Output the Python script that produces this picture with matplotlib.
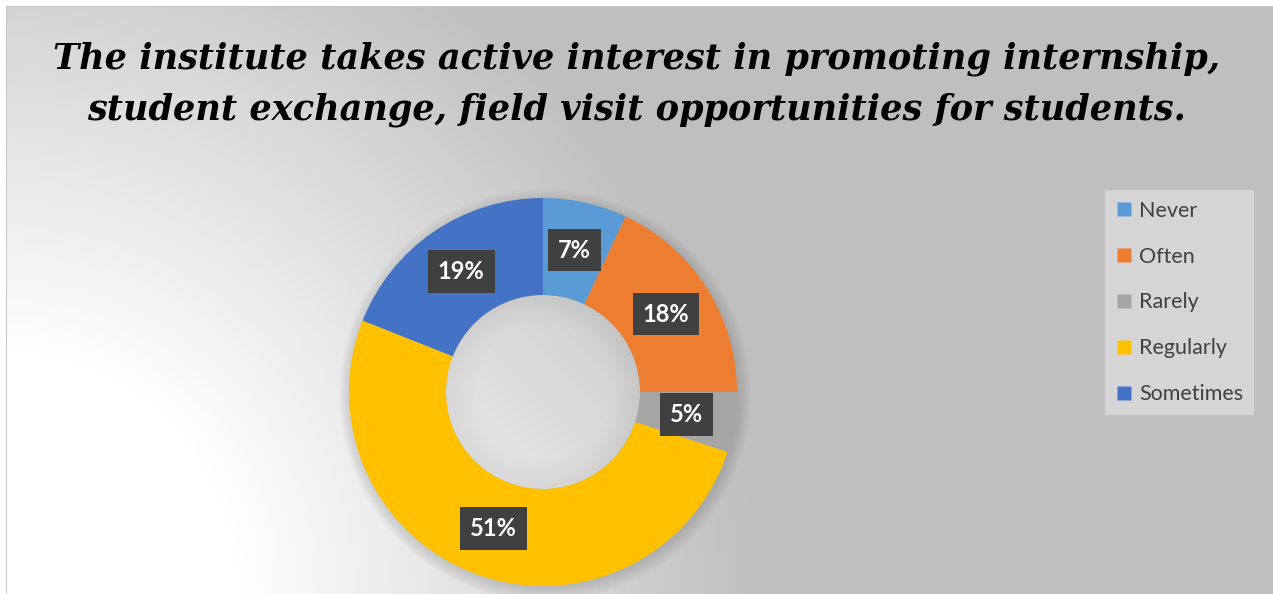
import numpy as np
import matplotlib
matplotlib.use('Agg')
import matplotlib.pyplot as plt
from matplotlib.lines import Line2D

# data
labels = ['Never', 'Often', 'Rarely', 'Regularly', 'Sometimes']
shares = [7, 18, 5, 51, 19]
colors = ['#5b9bd5', '#ed7d31', '#a5a5a5', '#ffc000', '#4472c4']
title = ('The institute takes active interest in promoting internship,\n'
         'student exchange, field visit opportunities for students.')

W, H = 1273, 594
fig = plt.figure(figsize=(W / 100, H / 100), dpi=100)

# background: radial gradient, white at the lower left corner
bg = fig.add_axes([0, 0, 1, 1])
yy, xx = np.mgrid[0:H, 0:W]
r = np.hypot(xx - 0, yy - H)
g = 255 - 64 * np.clip((r - 240) / 520, 0, 1)
img = np.dstack([g, g, g]) / 255.0
img[:6, :] = 1.0
img[:, :6] = 1.0
img[6, 6:] = 0.78
img[6:, 6] = 0.78
bg.imshow(img, extent=(0, W, H, 0), interpolation='bilinear')
bg.set_xlim(0, W)
bg.set_ylim(H, 0)
bg.axis('off')

# soft shadow behind the donut
cx, cy, R = 543, 392, 194
for k in range(14):
    circ = plt.Circle((cx + 2, cy + 3), R + 12 - k, color='#808080',
                      alpha=0.022, lw=0)
    bg.add_patch(circ)

# donut
ax = fig.add_axes([(cx - R) / W, (H - cy - R) / H, 2 * R / W, 2 * R / H])
wedges, texts, autotexts = ax.pie(
    shares, colors=colors, startangle=90, counterclock=False,
    radius=1, wedgeprops=dict(width=0.5, linewidth=0),
    autopct=lambda p: f'{p:.0f}%', pctdistance=0.75)

# lighter hole with its own gradient
hole = plt.Circle((0, 0), 0.5, transform=ax.transData, facecolor='none',
                  edgecolor='none')
ax.add_patch(hole)
hy, hx = np.mgrid[-1:1:200j, -1:1:200j]
hg = 0.86 - 0.06 * (hx + hy) / 2 - 0.05 * np.clip(np.hypot(hx, hy) - 0.7, 0, 1) / 0.3
hole_img = ax.imshow(np.dstack([hg, hg, hg]), extent=(-0.5, 0.5, -0.5, 0.5),
                     origin='lower', interpolation='bilinear', zorder=0.5)
hole_img.set_clip_path(hole)

for t in autotexts:
    t.set_color('white')
    t.set_fontsize(17)
    t.set_fontweight('bold')
    t.set_fontfamily('Lato')
    t.set_bbox(dict(boxstyle='square,pad=0.42', facecolor='#404040',
                    edgecolor='none'))
ax.set_xlim(-1, 1)
ax.set_ylim(-1, 1)
ax.set_aspect('auto')

fig.text(0.5, 1 - 84 / H, title, ha='center', va='center',
         fontsize=25.3, fontweight='bold', fontstyle='italic',
         family='DejaVu Serif', linespacing=1.6)

handles = [Line2D([0], [0], marker='s', color='none', markerfacecolor=c,
                  markeredgecolor='none', markersize=10) for c in colors]
leg = fig.legend(handles, labels, loc='upper left',
                 bbox_to_anchor=(1105 / W, 1 - 190 / H),
                 frameon=True, fancybox=False, facecolor='#d5d5d5',
                 edgecolor='none', framealpha=1,
                 prop={'family': 'Lato', 'size': 15.5},
                 labelspacing=1.2, handlelength=0.8, handletextpad=0.3,
                 borderpad=0.5, borderaxespad=0)
for t in leg.get_texts():
    t.set_color('#404040')

fig.savefig('out.png', dpi=100)
